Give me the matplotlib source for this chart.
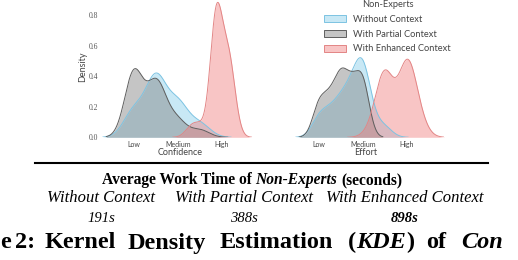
import numpy as np
import matplotlib
matplotlib.use("Agg")
import matplotlib.pyplot as plt
from matplotlib.patches import Patch
from matplotlib.lines import Line2D
from matplotlib.transforms import IdentityTransform

# Non-expert ratings, 1 = Low, 3 = Medium, 5 = High
conditions = ["Without Context", "With Partial Context", "With Enhanced Context"]

conf_without = [1, 1, 1, 1, 2, 2, 2, 2, 2, 2, 2, 2, 2, 3, 3, 3, 3, 3, 4, 4]
conf_partial = [1, 1, 1, 1, 1, 1, 1, 1, 1, 2, 2, 2, 2, 2, 2, 2, 2.5, 3, 3, 4]
conf_enhanced = [3.6, 4.0, 4.75, 4.75, 4.75, 4.75, 4.75, 4.75, 4.75, 4.75, 4.75,
                 4.75, 4.75, 4.75, 4.75, 5.3, 5.3, 5.3, 5.3, 5.3, 5.3, 5.3, 5.5]

effort_without = [1, 1, 1.5, 1.5, 2, 2, 2, 2.5, 2.5, 2.5, 2.5, 3, 3, 3, 3, 3, 3, 3, 3.5, 4]
effort_partial = [1, 1, 1, 1.5, 1.5, 1.5, 2, 2, 2, 2, 2, 2.5, 2.5, 2.5, 2.5, 3, 3, 3, 3, 3]
effort_enhanced = [3.5, 4, 4, 4, 4, 4, 4, 4, 4, 5, 5, 5, 5, 5, 5, 5, 5, 5, 5.5, 5.5]

# kernel bandwidths (rating units)
conf_bw = [0.47, 0.42, 0.28]
effort_bw = [0.35, 0.3, 0.4]

tick_pos = [1, 3, 5]
tick_labels = ["Low", "Medium", "High"]

work_time = ["191s", "388s", "898s"]

colors = ["skyblue", "gray", "lightcoral"]
edges = ["#7cc3e2", "#5e5e5e", "#e38585"]
ALPHA = 0.45

W, H = 518, 260
SANS = "Lato"
SERIF = "Liberation Serif"


def kde(values, bw):
    v = np.asarray(values, dtype=float)
    grid = np.linspace(v.min() - 3 * bw, v.max() + 3 * bw, 400)
    z = (grid[None, :] - v[:, None]) / bw
    dens = np.exp(-0.5 * z ** 2).sum(axis=0) / (len(v) * bw * np.sqrt(2 * np.pi))
    return grid, dens


def draw_kde(ax, series, bws, xlabel):
    for vals, bw, c, ec in zip(series, bws, colors, edges):
        x, y = kde(vals, bw)
        ax.fill_between(x, y, color=c, alpha=ALPHA, lw=0)
        ax.plot(x, y, color=ec, lw=0.7)
    ax.set_xlim(-0.5, 6.7)
    ax.set_ylim(0, 0.92)
    for s in ax.spines.values():
        s.set_visible(False)
    ax.set_xticks(tick_pos)
    ax.set_xticklabels(tick_labels, fontsize=5, family=SANS, color="#444444")
    ax.tick_params(length=0, pad=3)
    ax.set_xlabel(xlabel, fontsize=6.5, family=SANS, color="#444444", labelpad=0)


def rich_text(fig, x, y, pieces, size, ha="left"):
    # pieces: (text, style, weight, space_before)
    r = fig.canvas.get_renderer()
    arts, widths, gaps = [], [], []
    for s, style, weight, space in pieces:
        kw = dict(fontsize=size, family=SERIF, fontstyle=style, fontweight=weight,
                  color="black", transform=IdentityTransform(), va="baseline")
        t = fig.text(0, 0, s, **kw)
        widths.append(t.get_window_extent(r).width)
        gap = 0
        if space:
            a = fig.text(0, 0, "a a", **kw)
            b = fig.text(0, 0, "aa", **kw)
            gap = a.get_window_extent(r).width - b.get_window_extent(r).width
            a.remove()
            b.remove()
        gaps.append(gap)
        arts.append(t)
    total = sum(widths) + sum(gaps)
    x0 = x - total / 2 if ha == "center" else x
    for t, w, g in zip(arts, widths, gaps):
        x0 += g
        t.set_position((x0, H - y))
        x0 += w


fig = plt.figure(figsize=(W / 100, H / 100), dpi=100)

ax_h = 0.92 * 152.5 / H
ax_b = (H - 137.3) / H
ax1 = fig.add_axes([101 / W, ax_b, 158.4 / W, ax_h])
ax2 = fig.add_axes([286 / W, ax_b, 158.4 / W, ax_h])

draw_kde(ax1, [conf_without, conf_partial, conf_enhanced], conf_bw, "Confidence")
draw_kde(ax2, [effort_without, effort_partial, effort_enhanced], effort_bw, "Effort")

ax1.set_yticks([0, 0.2, 0.4, 0.6, 0.8])
ax1.set_yticklabels(["0.0", "0.2", "0.4", "0.6", "0.8"], fontsize=5.5, family=SERIF,
                    color="#555555")
ax1.tick_params(axis="y", pad=2)
ax1.set_ylabel("Density", fontsize=6.5, family=SANS, color="#444444", labelpad=1)
ax2.set_yticks([])

handles = [Patch(facecolor=matplotlib.colors.to_rgba(c, ALPHA), edgecolor=ec, lw=0.7)
           for c, ec in zip(colors, edges)]
leg = fig.legend(handles, conditions, title="Non-Experts", loc="upper left",
                 bbox_to_anchor=(324 / W, 1.0), frameon=False,
                 borderpad=0, borderaxespad=0,
                 labelspacing=0.62, handlelength=2.4, handleheight=0.8,
                 handletextpad=0.75, prop={"family": SANS, "size": 6.7})
for t in leg.get_texts():
    t.set_color("#444444")
leg.get_title().set_color("#444444")
leg.get_title().set_family(SANS)
leg.get_title().set_fontsize(6.7)

# table below the plots
fig.add_artist(Line2D([35 / W, 488 / W], [1 - 163 / H, 1 - 163 / H], color="black", lw=1.5))

rich_text(fig, 252, 184, [("Average Work Time of", "normal", "bold", False),
                          ("Non-Experts", "italic", "bold", True),
                          ("(seconds)", "normal", "bold", True)], 11.2, ha="center")
centers = [101, 244, 405]
for cx, name, val in zip(centers, conditions, work_time):
    rich_text(fig, cx, 201.7, [(name, "italic", "normal", False)], 12, ha="center")
    w = "bold" if val == work_time[-1] else "normal"
    rich_text(fig, cx, 222.3, [(val, "italic", w, False)], 10.5, ha="center")

# caption, cropped at both edges in the source picture
caption = [(0, [("e", "normal", "bold", False)]),
           (15, [("2:", "normal", "bold", False)]),
           (45, [("Kernel", "normal", "bold", False)]),
           (128, [("Density", "normal", "bold", False)]),
           (220, [("Estimation", "normal", "bold", False)]),
           (348, [("(", "normal", "bold", False), ("KDE", "italic", "bold", False),
                  (")", "normal", "bold", False)]),
           (426, [("of", "normal", "bold", False)]),
           (461, [("Con", "italic", "bold", False)])]
for cx, pieces in caption:
    rich_text(fig, cx, 248.5, pieces, 17.5)

fig.savefig("out.png", dpi=100)
